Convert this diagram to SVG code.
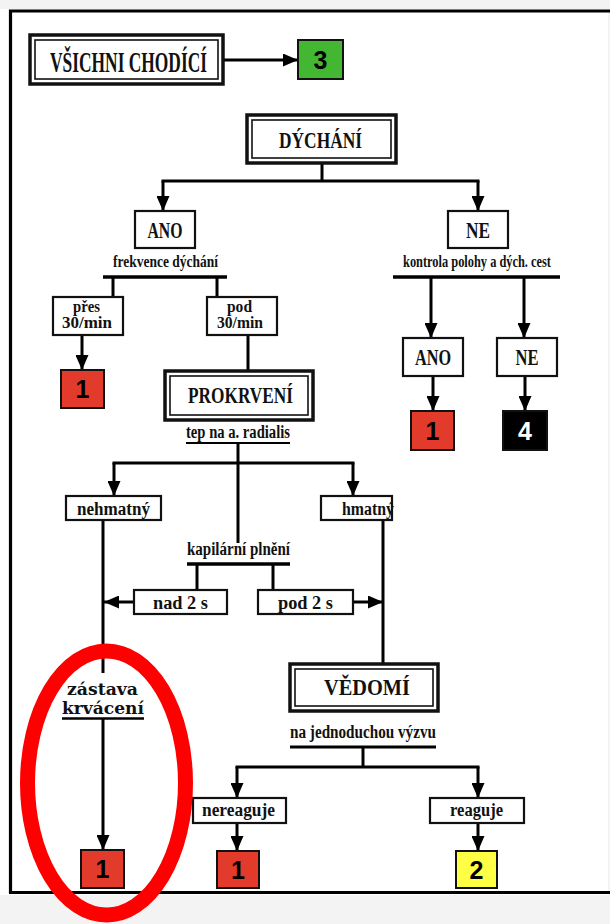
<svg xmlns="http://www.w3.org/2000/svg" width="610" height="924" viewBox="0 0 610 924">
<style>
.lab{font-family:"Liberation Serif","Times New Roman",serif;font-weight:bold;fill:#111;text-anchor:middle}
.num{font-family:"Liberation Sans",Arial,sans-serif;font-weight:bold;font-size:25px;text-anchor:middle}
.box{fill:#fff;stroke:#111;stroke-width:2.2}
.outer{fill:#fff;stroke:#111;stroke-width:3.5}
.inner{fill:none;stroke:#111;stroke-width:1.6}
.sq{stroke:#111;stroke-width:2}
.con line,.con path{stroke:#000;stroke-width:3;fill:none}
.arr{marker-end:url(#ah)}
.ul{stroke:#000;fill:none}
</style>
<defs>
<marker id="ah" viewBox="0 0 10 10" refX="10" refY="5" markerUnits="userSpaceOnUse" markerWidth="15" markerHeight="13" orient="auto" preserveAspectRatio="none">
<path d="M0,0 L10,5 L0,10 z" fill="#000"/>
</marker>
</defs>
<rect x="0" y="0" width="610" height="924" fill="#f3f3f3"/>
<rect x="0" y="9" width="608" height="886" fill="#fff"/>
<g id="frame">
<path d="M10.5,893 V11 H610" fill="none" stroke="#000" stroke-width="3.2"/>
<line x1="9" y1="892.5" x2="610" y2="892.5" stroke="#000" stroke-width="3.2"/>
</g>

<g class="con" id="connectors">
<line class="arr" x1="224" y1="60" x2="298" y2="60"/>
<line x1="322" y1="164" x2="322" y2="181"/>
<line x1="161.5" y1="181" x2="479.5" y2="181"/>
<line class="arr" x1="163" y1="181" x2="163" y2="211"/>
<line class="arr" x1="478" y1="181" x2="478" y2="211"/>
<line x1="103" y1="277" x2="227" y2="277" style="stroke-width:3.5"/>
<line x1="113" y1="277" x2="113" y2="297"/>
<line x1="217" y1="277" x2="217" y2="297"/>
<line class="arr" x1="82" y1="335" x2="82" y2="370"/>
<line x1="248" y1="335" x2="248" y2="370"/>
<line x1="393" y1="277" x2="560" y2="277" style="stroke-width:3.5"/>
<line class="arr" x1="431" y1="277" x2="431" y2="338"/>
<line class="arr" x1="524" y1="277" x2="524" y2="338"/>
<line class="arr" x1="433" y1="376" x2="433" y2="411"/>
<line class="arr" x1="525" y1="376" x2="525" y2="411"/>
<line x1="238" y1="443" x2="238" y2="543"/>
<line x1="112.5" y1="463" x2="354.5" y2="463"/>
<line class="arr" x1="114" y1="463" x2="114" y2="496"/>
<line class="arr" x1="353" y1="463" x2="353" y2="496"/>
<line x1="187" y1="564" x2="290" y2="564" style="stroke-width:3.5"/>
<line x1="197" y1="564" x2="197" y2="590"/>
<line x1="273" y1="564" x2="273" y2="590"/>
<line class="arr" x1="134" y1="602" x2="104" y2="602"/>
<line class="arr" x1="353" y1="602" x2="383" y2="602"/>
<line x1="103" y1="520" x2="103" y2="673"/>
<line class="arr" x1="103" y1="718" x2="103" y2="850"/>
<line x1="383" y1="520" x2="383" y2="663"/>
<line x1="363" y1="747" x2="363" y2="767"/>
<line x1="235.5" y1="767" x2="479.5" y2="767"/>
<line class="arr" x1="237" y1="767" x2="237" y2="798"/>
<line class="arr" x1="478" y1="767" x2="478" y2="798"/>
<line class="arr" x1="237" y1="823" x2="237" y2="851"/>
<line class="arr" x1="478" y1="823" x2="478" y2="851"/>
</g>

<g id="vsichni">
<rect class="outer" x="30" y="35" width="193" height="49"/>
<rect class="inner" x="35" y="40" width="183" height="39"/>
<text class="lab" x="128.5" y="72" font-size="29" textLength="157" lengthAdjust="spacingAndGlyphs">VŠICHNI CHODÍCÍ</text>
</g>
<g id="t3"><rect class="sq" x="298" y="40" width="45" height="39" fill="#43b632"/><text class="num" x="320.5" y="68.5">3</text></g>

<g id="dychani">
<rect class="outer" x="247" y="115" width="149" height="48"/>
<rect class="inner" x="252" y="120" width="139" height="38"/>
<text class="lab" x="320.5" y="148" font-size="24" textLength="83" lengthAdjust="spacingAndGlyphs">DÝCHÁNÍ</text>
</g>

<g id="ano1">
<rect class="box" x="135" y="211" width="60" height="37"/>
<text class="lab" x="165" y="238" font-size="24" textLength="35" lengthAdjust="spacingAndGlyphs">ANO</text>
<text class="lab" x="165.5" y="267" font-size="17" textLength="105" lengthAdjust="spacingAndGlyphs">frekvence dýchání</text>
</g>
<g id="pres">
<rect class="box" x="53" y="297" width="70" height="38"/>
<text class="lab" x="86.5" y="312" font-size="16" textLength="27" lengthAdjust="spacingAndGlyphs">přes</text>
<text class="lab" x="87" y="328" font-size="16" textLength="50" lengthAdjust="spacingAndGlyphs">30/min</text>
</g>
<g id="pod">
<rect class="box" x="207" y="297" width="70" height="38"/>
<text class="lab" x="239.5" y="312" font-size="16" textLength="25" lengthAdjust="spacingAndGlyphs">pod</text>
<text class="lab" x="240" y="328" font-size="16" textLength="46" lengthAdjust="spacingAndGlyphs">30/min</text>
</g>
<g id="r1a"><rect class="sq" x="61" y="370" width="43" height="38" fill="#e23b2b"/><text class="num" x="82.5" y="398">1</text></g>

<g id="ne1">
<rect class="box" x="448" y="211" width="60" height="37"/>
<text class="lab" x="478" y="238" font-size="24" textLength="24" lengthAdjust="spacingAndGlyphs">NE</text>
<text class="lab" x="477" y="267" font-size="17" textLength="148" lengthAdjust="spacingAndGlyphs">kontrola polohy a dých. cest</text>
</g>
<g id="ano2">
<rect class="box" x="403" y="338" width="60" height="38"/>
<text class="lab" x="433" y="365" font-size="24" textLength="36" lengthAdjust="spacingAndGlyphs">ANO</text>
</g>
<g id="ne2">
<rect class="box" x="497" y="338" width="60" height="38"/>
<text class="lab" x="527" y="365" font-size="24" textLength="23" lengthAdjust="spacingAndGlyphs">NE</text>
</g>
<g id="r1b"><rect class="sq" x="411" y="411" width="43" height="39" fill="#e23b2b"/><text class="num" x="432.5" y="439.5">1</text></g>
<g id="b4"><rect class="sq" x="503" y="411" width="44" height="39" fill="#000"/><text class="num" x="525" y="439.5" fill="#fff">4</text></g>

<g id="prokrveni">
<rect class="outer" x="165" y="371" width="148" height="49"/>
<rect class="inner" x="170" y="376" width="138" height="39"/>
<text class="lab" x="240.5" y="403" font-size="24" textLength="105" lengthAdjust="spacingAndGlyphs">PROKRVENÍ</text>
<text class="lab" x="238" y="438" font-size="18" textLength="104" lengthAdjust="spacingAndGlyphs">tep na a. radialis</text>
<line class="ul" x1="186" y1="443" x2="290" y2="443" stroke-width="2"/>
</g>

<g id="nehmatny">
<rect class="box" x="66" y="496" width="95" height="24"/>
<text class="lab" x="113.5" y="515" font-size="18" textLength="73" lengthAdjust="spacingAndGlyphs">nehmatný</text>
</g>
<g id="hmatny">
<rect class="box" x="321" y="496" width="71" height="24"/>
<text class="lab" x="368" y="515" font-size="18" textLength="52" lengthAdjust="spacingAndGlyphs">hmatný</text>
</g>
<g id="kapilarni">
<text class="lab" x="238.5" y="555" font-size="18" textLength="103" lengthAdjust="spacingAndGlyphs">kapilární plnění</text>
</g>
<g id="nad2s">
<rect class="box" x="134" y="590" width="93" height="24"/>
<text class="lab" x="180.5" y="609" font-size="18" textLength="55" lengthAdjust="spacingAndGlyphs">nad 2 s</text>
</g>
<g id="pod2s">
<rect class="box" x="258" y="590" width="95" height="24"/>
<text class="lab" x="305.5" y="609" font-size="18" textLength="55" lengthAdjust="spacingAndGlyphs">pod 2 s</text>
</g>

<g id="zastava">
<text class="lab" x="102.5" y="695" font-size="16" textLength="71" lengthAdjust="spacingAndGlyphs" style="font-family:'DejaVu Serif','Liberation Serif',serif">zástava</text>
<text class="lab" x="103" y="714" font-size="16" textLength="82" lengthAdjust="spacingAndGlyphs" style="font-family:'DejaVu Serif','Liberation Serif',serif">krvácení</text>
<line class="ul" x1="62" y1="718.5" x2="144" y2="718.5" stroke-width="2.5"/>
</g>
<g id="r1c"><rect class="sq" x="81" y="850" width="43" height="38" fill="#e23b2b"/><text class="num" x="102.5" y="878">1</text></g>

<g id="vedomi">
<rect class="outer" x="290" y="664" width="148" height="47"/>
<rect class="inner" x="295" y="669" width="138" height="37"/>
<text class="lab" x="367" y="695" font-size="24" textLength="86" lengthAdjust="spacingAndGlyphs">VĚDOMÍ</text>
<text class="lab" x="363" y="738" font-size="18" textLength="146" lengthAdjust="spacingAndGlyphs">na jednoduchou výzvu</text>
<line class="ul" x1="290" y1="747" x2="436" y2="747" stroke-width="3"/>
</g>
<g id="nereaguje">
<rect class="box" x="193" y="798" width="93" height="25"/>
<text class="lab" x="238.5" y="816" font-size="18" textLength="73" lengthAdjust="spacingAndGlyphs">nereaguje</text>
</g>
<g id="reaguje">
<rect class="box" x="430" y="798" width="94" height="25"/>
<text class="lab" x="476.5" y="816" font-size="18" textLength="53" lengthAdjust="spacingAndGlyphs">reaguje</text>
</g>
<g id="r1d"><rect class="sq" x="217" y="851" width="42" height="37" fill="#e23b2b"/><text class="num" x="238" y="878.5">1</text></g>
<g id="y2"><rect class="sq" x="456" y="851" width="41" height="37" fill="#ffff44"/><text class="num" x="476.5" y="878.5">2</text></g>

<g id="highlight">
<ellipse cx="106.5" cy="783" rx="79" ry="132" fill="none" stroke="#ff0000" stroke-width="15"/>
</g>
</svg>
